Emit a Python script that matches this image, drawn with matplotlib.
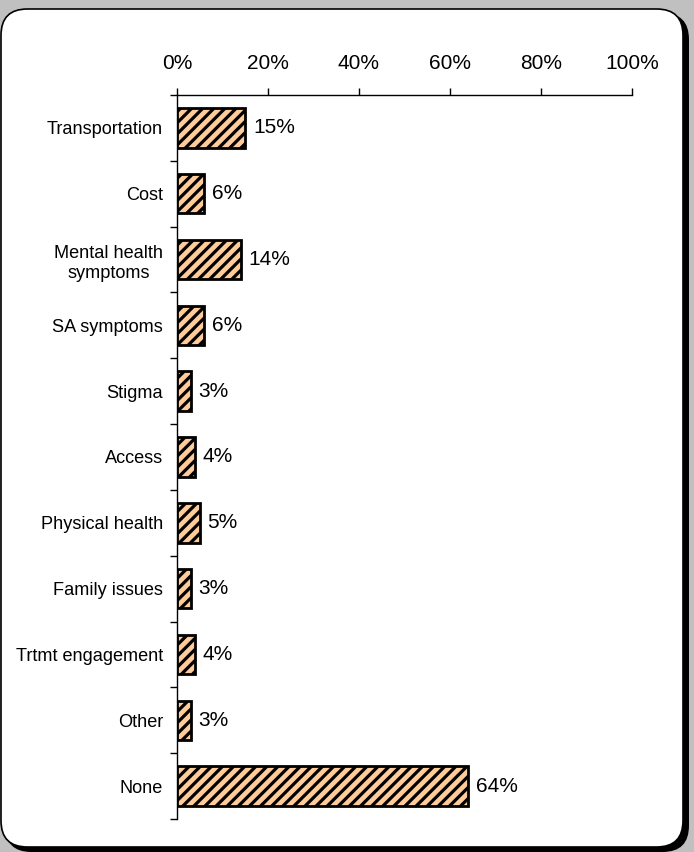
import matplotlib
matplotlib.use("Agg")
import matplotlib.pyplot as plt
from matplotlib.patches import FancyBboxPatch
from matplotlib.ticker import FixedLocator

categories = ["Transportation", "Cost", "Mental health\nsymptoms", "SA symptoms",
              "Stigma", "Access", "Physical health", "Family issues",
              "Trtmt engagement", "Other", "None"]
values = [15, 6, 14, 6, 3, 4, 5, 3, 4, 3, 64]
xticks = [0, 20, 40, 60, 80, 100]
xtick_labels = ["0%", "20%", "40%", "60%", "80%", "100%"]

W, H = 694, 852
plt.rcParams["font.family"] = ["Liberation Sans", "DejaVu Sans"]
plt.rcParams["hatch.color"] = "#333333"
plt.rcParams["hatch.linewidth"] = 2.3

fig = plt.figure(figsize=(W / 100, H / 100), dpi=100)
fig.patch.set_facecolor("#c0c0c0")

# rounded panel with drop shadow
def px_box(x0, y0, x1, y1, **kw):
    return FancyBboxPatch((x0 / W, 1 - y1 / H), (x1 - x0) / W, (y1 - y0) / H,
                          boxstyle="round,pad=0,rounding_size=0.038",
                          transform=fig.transFigure, mutation_aspect=W / H,
                          zorder=-10, **kw)

fig.patches.append(px_box(5, 13, 689, 852, facecolor="black", edgecolor="black", lw=0))
fig.patches.append(px_box(1, 9, 683, 847, facecolor="white", edgecolor="black", lw=1.2))

ax = fig.add_axes([177 / W, 1 - 819 / H, (632 - 177) / W, (819 - 95) / H])
ax.set_facecolor("none")
ax.set_zorder(5)

n = len(categories)
ypos = list(range(n))
ax.barh(ypos, values, height=0.6, color="#ffcc99", edgecolor="black",
        linewidth=2, hatch="///", zorder=3)
for y, v in zip(ypos, values):
    ax.text(v + 1.7, y, f"{v}%", va="center", ha="left", fontsize=15, color="black")

ax.set_xlim(0, 100)
ax.set_ylim(n - 0.5, -0.5)
ax.xaxis.tick_top()
ax.set_xticks(xticks)
ax.set_xticklabels(xtick_labels, fontsize=15)
ax.tick_params(axis="x", direction="out", length=5, width=1, pad=11, top=True, bottom=False)

ax.yaxis.set_major_locator(FixedLocator([i - 0.5 for i in range(n + 1)]))
ax.yaxis.set_minor_locator(FixedLocator(ypos))
ax.set_yticklabels([])
ax.set_yticklabels(categories, minor=True, fontsize=13.1, ha="right",
                   multialignment="center", linespacing=1.25)
ax.tick_params(axis="y", which="major", direction="out", length=5, width=1)
ax.tick_params(axis="y", which="minor", length=0, pad=10)

for s in ["right", "bottom"]:
    ax.spines[s].set_visible(False)
ax.spines["top"].set_linewidth(1)
ax.spines["left"].set_linewidth(1)

fig.savefig("out.png", dpi=100, facecolor=fig.get_facecolor())
